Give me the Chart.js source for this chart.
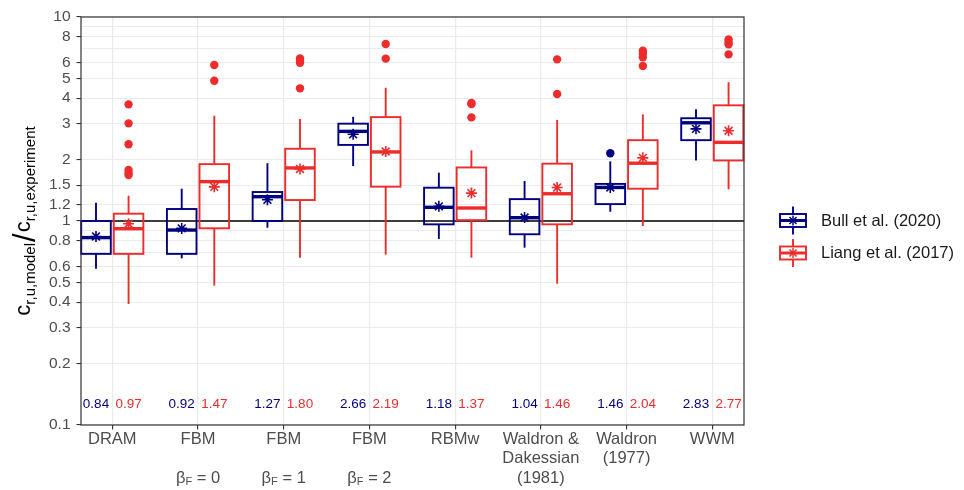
<!DOCTYPE html>
<html lang="en">
<head>
  <meta charset="UTF-8">
  <title>Model / experiment ratio by method</title>
  <style>
    html, body {
      margin: 0;
      padding: 0;
      background: #fff;
    }
    #wrap {
      width: 964px;
      height: 490px;
    }
  </style>
</head>
<body>
  <div id="wrap"><canvas id="chart" width="964" height="490"></canvas></div>

  <script src="https://cdn.jsdelivr.net/npm/chart.js"></script>
  <script>
    // categories (x axis lines) and the beta value shown under the FBM ones
    const categories = [
      ["DRAM"], ["FBM"], ["FBM"], ["FBM"], ["RBMw"],
      ["Waldron &", "Dakessian", "(1981)"], ["Waldron", "(1977)"], ["WWM"]
    ];
    const betaLabels = [null, "0", "1", "2", null, null, null, null];

    // Bull et al. (2020)
    const bullLow    = [0.584, 0.656, 0.927, 1.86, 0.816, 0.74, 1.11, 1.98];
    const bullQ1     = [0.69, 0.69, 1.0, 2.36, 0.963, 0.861, 1.21, 2.49];
    const bullMedian = [0.829, 0.903, 1.316, 2.75, 1.167, 1.038, 1.46, 3.03];
    const bullQ3     = [1.0, 1.145, 1.387, 3.0, 1.456, 1.28, 1.52, 3.19];
    const bullHigh   = [1.23, 1.44, 1.92, 3.24, 1.725, 1.57, 1.96, 3.53];
    const bullMean   = [0.84, 0.92, 1.27, 2.66, 1.18, 1.04, 1.46, 2.83];
    const bullOutliers = [[], [], [], [], [], [], [2.15], []];

    // Liang et al. (2017)
    const liangLow    = [0.392, 0.482, 0.661, 0.684, 0.661, 0.493, 0.945, 1.43];
    const liangQ1     = [0.69, 0.921, 1.267, 1.473, 1.01, 0.963, 1.44, 1.98];
    const liangMedian = [0.917, 1.56, 1.82, 2.18, 1.158, 1.36, 1.92, 2.43];
    const liangQ3     = [1.086, 1.90, 2.26, 3.23, 1.83, 1.91, 2.49, 3.69];
    const liangHigh   = [1.33, 3.28, 3.16, 4.50, 2.22, 3.13, 3.33, 4.79];
    const liangMean   = [0.97, 1.47, 1.80, 2.19, 1.37, 1.46, 2.04, 2.77];
    const liangOutliers = [
      [3.73, 3.01, 2.38, 1.78, 1.72, 1.68],
      [5.82, 4.87],
      [6.27, 6.1, 5.97, 4.47],
      [7.37, 6.25],
      [3.79, 3.74, 3.22],
      [6.20, 4.19],
      [6.83, 6.6, 6.34, 5.75],
      [7.77, 7.55, 7.35, 6.56]
    ];

    // y axis breaks
    const yTicks = [0.1, 0.2, 0.3, 0.4, 0.5, 0.6, 0.8, 1, 1.2, 1.5, 2, 3, 4, 5, 6, 8, 10];
    const yMinor = [0.7, 0.9, 7, 9];
    const refLine = 1;
    const meanLabelAt = 0.126;

    const NAVY = "#000080";
    const RED = "#EE2C2C";
    const FONT = "'Liberation Sans', Arial, Helvetica, sans-serif";
    const dodge = 0.19;
    const boxWidth = 0.345;

    const groups = [
      { name: "Bull et al. (2020)", color: NAVY, offset: -dodge,
        low: bullLow, q1: bullQ1, median: bullMedian, q3: bullQ3, high: bullHigh,
        mean: bullMean, outliers: bullOutliers },
      { name: "Liang et al. (2017)", color: RED, offset: dodge,
        low: liangLow, q1: liangQ1, median: liangMedian, q3: liangQ3, high: liangHigh,
        mean: liangMean, outliers: liangOutliers }
    ];

    function line(ctx, x1, y1, x2, y2) {
      ctx.beginPath();
      ctx.moveTo(x1, y1);
      ctx.lineTo(x2, y2);
      ctx.stroke();
    }

    function drawStar(ctx, cx, cy, r) {
      for (let k = 0; k < 4; k++) {
        const ang = k * Math.PI / 4;
        line(ctx, cx - r * Math.cos(ang), cy - r * Math.sin(ang),
                  cx + r * Math.cos(ang), cy + r * Math.sin(ang));
      }
    }

    const boxPlugin = {
      id: "boxes",
      beforeDatasetsDraw(chart) {
        const { ctx, chartArea: a, scales: { x, y } } = chart;
        ctx.save();
        ctx.lineCap = "butt";

        // reference line
        ctx.strokeStyle = "#000";
        ctx.lineWidth = 1.6;
        const yr = y.getPixelForValue(refLine);
        line(ctx, a.left, yr, a.right, yr);

        groups.forEach(g => {
          ctx.strokeStyle = g.color;
          g.q1.forEach((q1, i) => {
            const cx = x.getPixelForValue(i + g.offset);
            const hw = x.getPixelForValue(i + g.offset + boxWidth / 2) - cx;
            const yLow = y.getPixelForValue(g.low[i]);
            const yQ1 = y.getPixelForValue(q1);
            const yMed = y.getPixelForValue(g.median[i]);
            const yQ3 = y.getPixelForValue(g.q3[i]);
            const yHigh = y.getPixelForValue(g.high[i]);

            ctx.lineWidth = 1.9;
            line(ctx, cx, yQ3, cx, yHigh);
            line(ctx, cx, yQ1, cx, yLow);
            ctx.strokeRect(cx - hw, yQ3, hw * 2, yQ1 - yQ3);
            ctx.lineWidth = 3.4;
            line(ctx, cx - hw, yMed, cx + hw, yMed);
          });
        });
        ctx.restore();
      },
      afterDraw(chart) {
        const { ctx, chartArea: a, scales: { x, y } } = chart;
        ctx.save();

        // panel border
        ctx.strokeStyle = "#333";
        ctx.lineWidth = 1.2;
        ctx.strokeRect(a.left, a.top, a.right - a.left, a.bottom - a.top);

        // mean labels
        ctx.font = "13.5px " + FONT;
        ctx.textAlign = "center";
        ctx.textBaseline = "middle";
        groups.forEach(g => {
          ctx.fillStyle = g.color;
          g.mean.forEach((m, i) => {
            ctx.fillText(m.toFixed(2), x.getPixelForValue(i + g.offset), y.getPixelForValue(meanLabelAt));
          });
        });

        // beta lines under FBM labels
        const lh = 19.5;
        const by = x.top + 4.5 + lh / 2 + 2 * lh;
        ctx.fillStyle = "#4d4d4d";
        ctx.textAlign = "left";
        betaLabels.forEach((b, i) => {
          if (b === null) return;
          const main = "16.5px " + FONT;
          const sub = "11px " + FONT;
          const rest = " = " + b;
          ctx.font = main;
          const wB = ctx.measureText("\u03B2").width;
          const wR = ctx.measureText(rest).width;
          ctx.font = sub;
          const wF = ctx.measureText("F").width;
          let px = x.getPixelForValue(i) - (wB + wF + wR) / 2;
          ctx.font = main;
          ctx.fillText("\u03B2", px, by);
          px += wB;
          ctx.font = sub;
          ctx.fillText("F", px, by + 4);
          px += wF;
          ctx.font = main;
          ctx.fillText(rest, px, by);
        });

        // y axis title
        ctx.save();
        ctx.translate(29.5, (a.top + a.bottom) / 2);
        ctx.rotate(-Math.PI / 2);
        ctx.fillStyle = "#000";
        ctx.textBaseline = "alphabetic";
        const parts = [
          ["c", "22px " + FONT, 0, 0],
          ["r,u,model", "15px " + FONT, 5, 1],
          ["/", "31px " + FONT, 5, 1],
          ["c", "22px " + FONT, 0, 0],
          ["r,u,experiment", "15px " + FONT, 5, 0]
        ];
        let total = 0;
        parts.forEach(p => { ctx.font = p[1]; total += ctx.measureText(p[0]).width + p[3]; });
        let tx = -total / 2;
        parts.forEach(p => {
          ctx.font = p[1];
          ctx.fillText(p[0], tx, p[2]);
          tx += ctx.measureText(p[0]).width + p[3];
        });
        ctx.restore();

        // legend
        const legendY = [220.5, 253];
        groups.forEach((g, k) => {
          const cy = legendY[k];
          const cx = 793;
          ctx.strokeStyle = g.color;
          ctx.lineWidth = 1.9;
          line(ctx, cx, cy - 14, cx, cy - 6.5);
          line(ctx, cx, cy + 6.5, cx, cy + 14);
          ctx.strokeRect(cx - 13, cy - 6.5, 26, 13);
          ctx.lineWidth = 3;
          line(ctx, cx - 13, cy, cx + 13, cy);
          ctx.lineWidth = 1.5;
          drawStar(ctx, cx, cy, 5);
          ctx.fillStyle = "#1a1a1a";
          ctx.font = "16.5px " + FONT;
          ctx.textAlign = "left";
          ctx.textBaseline = "middle";
          ctx.fillText(g.name, 821, cy + 0.5);
        });

        ctx.restore();
      }
    };

    const datasets = [];
    groups.forEach(g => {
      datasets.push({
        label: g.name + " outliers",
        data: g.outliers.flatMap((vals, i) => vals.map(v => ({ x: i + g.offset, y: v }))),
        pointRadius: 4.2,
        pointBorderWidth: 0,
        backgroundColor: g.color,
        borderColor: g.color
      });
    });
    groups.forEach(g => {
      datasets.push({
        label: g.name + " mean",
        data: g.mean.map((m, i) => ({ x: i + g.offset, y: m })),
        pointStyle: "star",
        pointRadius: 5.5,
        pointBorderWidth: 1.6,
        borderColor: g.color,
        backgroundColor: g.color
      });
    });

    Chart.defaults.font.family = FONT;

    new Chart(document.getElementById("chart"), {
      type: "scatter",
      data: { datasets },
      plugins: [boxPlugin],
      options: {
        responsive: false,
        animation: false,
        devicePixelRatio: 1,
        layout: { padding: { top: 17, right: 220, bottom: 0, left: 0 } },
        plugins: {
          legend: { display: false },
          tooltip: { enabled: false }
        },
        scales: {
          x: {
            type: "linear",
            min: -0.365,
            max: 7.37,
            afterBuildTicks: s => { s.ticks = categories.map((c, i) => ({ value: i })); },
            afterFit: s => { s.height = 65; },
            grid: { color: "#ebebeb", lineWidth: 1.2, tickLength: 4.5, tickWidth: 1.1, tickColor: "#333" },
            border: { display: false },
            ticks: {
              autoSkip: false,
              maxRotation: 0,
              minRotation: 0,
              padding: 0,
              color: "#4d4d4d",
              font: { size: 16.5, lineHeight: 1.18 },
              callback: v => categories[v]
            }
          },
          y: {
            type: "logarithmic",
            min: 0.1,
            max: 10,
            afterBuildTicks: s => {
              s.ticks = yTicks.concat(yMinor).sort((p, q) => p - q).map(v => ({ value: v }));
            },
            afterFit: s => { s.width = 81; },
            grid: {
              color: "#ebebeb",
              lineWidth: 1.1,
              tickLength: 4.5,
              tickWidth: 1.1,
              tickColor: c => (c.tick && yMinor.includes(c.tick.value)) ? "rgba(0,0,0,0)" : "#333"
            },
            border: { display: false },
            ticks: {
              autoSkip: false,
              padding: 6,
              color: "#4d4d4d",
              font: { size: 15.5 },
              callback: v => yTicks.includes(v) ? String(v) : ""
            }
          }
        }
      }
    });
  </script>
</body>
</html>
